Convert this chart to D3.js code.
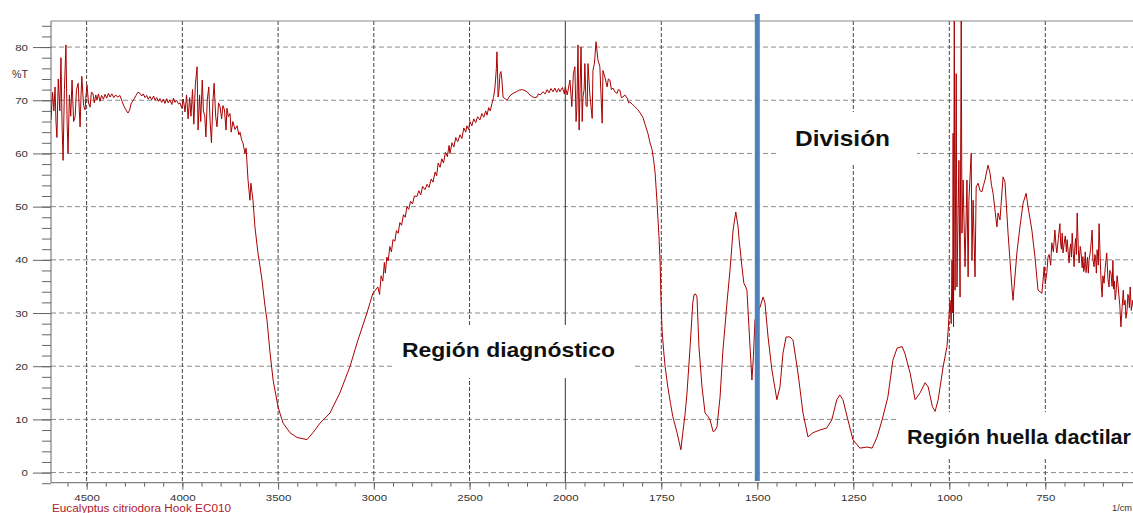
<!DOCTYPE html>
<html>
<head>
<meta charset="utf-8">
<script src="https://cdn.jsdelivr.net/npm/d3@7"></script>
<style>
  body { margin: 0; background: #fff; }
  svg { display: block; font-family: "Liberation Sans", Arial, sans-serif; }
</style>
</head>
<body>
<svg width="1133" height="513"></svg>
<script>
// %T readings, [wavenumber 1/cm, %T]
const highNoise = [
  [4686,66.3],[4678,71.5],[4671,68],[4665,72.5],[4660,66],[4655,63],[4648,74],[4640,68],[4634,78],
  [4628,65],[4623,58.7],[4616,72],[4608,80.4],[4602,66],[4597,60],[4590,71],[4583,67],[4576,73.8],
  [4568,66],[4560,66.9],[4553,72],[4544,73.2],[4538,68],[4534,65],[4529,71],[4525,74.5],[4516,69],
  [4508,68.2],[4503,71],[4498,72.9],[4490,69.5],[4482,68.7],[4475,71.5],[4467,71.3],[4460,69.5],
  [4452,71],[4446,70],[4438,71.2],[4430,69.8],[4422,70.9],[4412,70.2],[4404,71.1],[4395,70.4],
  [4386,71.3],[4378,70.6],[4368,71.2],[4358,70.5],[4348,71],[4338,70.6],[4326,70.9],[4315,69.8],
  [4305,68.9],[4295,68.2],[4284,67.6],[4276,68.1],[4268,69.3],[4260,69.8],[4250,70.4],[4242,70.9],
  [4232,71.5],[4221,71.3],[4212,70.8],[4204,71.2],[4195,70.5],[4186,70.9],[4178,70.2],[4169,70.7],
  [4160,70.1],[4150,70.8],[4143,70.0],[4134,70.5],[4125,69.8],[4117,70.3],[4108,69.6],[4100,70.2],
  [4091,69.4],[4082,70.3],[4074,69.5],[4065,70.1],[4055,69.2],[4046,70.4],[4039,69.6],[4030,70.0],
  [4020,69.3],[4012,69.5],[4003,68.5],[3995,70.2],[3986,67.8],[3978,71],[3970,66.5],[3962,70.5],
  [3955,67],[3947,72],[3940,65.5],[3932,73],[3923,76.3],[3918,64.4],[3910,71],[3904,66],[3896,73.8],
  [3890,68],[3883,67],[3877,63.1],[3870,70],[3862,72.5],[3855,66],[3848,62],[3840,70],[3834,73.2],
  [3826,67],[3819,65],[3811,69.5],[3803,68.8],[3795,66.5],[3788,69],[3780,68.2],[3772,64.4],
  [3767,68.5],[3760,66.9],[3751,67.5],[3745,64],[3736,66],[3725,64.5],[3714,65.2],[3705,63.5],
  [3699,64],[3690,62.5],[3683,61.9],[3673,60],[3667,61],[3662,58],[3657,55],[3647,51.2]
];

const ohBand = [
  [3642,54.4],[3631,51.2],[3621,46.2],[3605,41.3],[3584,36.2],[3568,31.2],[3558,28.7],[3542,22.5],
  [3526,17.4],[3500,12.3],[3474,9.3],[3438,7.5],[3401,6.6],[3349,6.2],[3318,7.5],[3281,9.3],
  [3229,11.2],[3177,15],[3125,19.9],[3083,24.9],[3036,30],[3005,33.7],[2979,34.9],[2970,33.5],
  [2962,37],[2953,36],[2945,39.5],[2940,37.5],[2932,40.5],[2925,39.8],[2916,42.5],[2908,41.5],
  [2900,43.8],[2890,43.5],[2882,45.5],[2873,45],[2864,47],[2855,46.5],[2845,48.5],[2836,48],
  [2827,50],[2818,49.5],[2808,51],[2798,50.5],[2788,52],[2775,51.9],[2765,53],[2755,52.2],
  [2745,53.8],[2733,53.2],[2722,54.2],[2712,53.6],[2700,55.2],[2691,54.6],[2680,56.5],[2672,55.8],
  [2664,58.2],[2654,57.4],[2645,59],[2636,58.2],[2626,60.2],[2616,59.4],[2607,61.5],[2602,60],
  [2592,62],[2582,61.2],[2572,63],[2562,62.2],[2550,63.5],[2540,62.8],[2530,64.8],[2520,64],
  [2514,65.2],[2505,64.5],[2498,66],[2488,65.2],[2478,66.5],[2468,65.8],[2458,66.9],[2446,66.3],
  [2436,67.5],[2426,66.8],[2416,68],[2409,67.2],[2400,68.6],[2392,68],[2383,69.4],[2375,70.5],
  [2367,72.5],[2360,76],[2357,79.1],[2353,74],[2351,70.6],[2346,72],[2341,75],[2336,75.4],
  [2331,73.8],[2325,70.6],[2315,70.3],[2304,70],[2290,70.8],[2273,71.3],[2255,71.6],[2240,71.9],
  [2225,72],[2210,71.8],[2200,71.6],[2185,71],[2169,70.6],[2160,70.5],[2148,70.6],[2140,71.2],
  [2130,71],[2117,71.6],[2105,71.2],[2095,72],[2085,71.4],[2075,72.2],[2064,71.6],[2055,72.3],
  [2045,71.5],[2035,72.2],[2028,71.6],[2015,72.4],[2005,71.2],[2000,72.5]
];

const midBand = [
  [1995,71],[1988,73.8],[1983,68.8],[1979,75],[1975,76.3],[1972,66],[1970,68.2],[1967,80.4],
  [1964,64.4],[1961,74],[1959,80],[1956,66],[1954,70.6],[1951,72],[1949,76.9],[1946,69],[1943,68.8],
  [1941,76.9],[1936,71],[1930,66.6],[1928,75.6],[1924,77],[1920,81],[1915,77.6],[1910,76.3],
  [1904,65.7],[1902,75.6],[1897,74.4],[1891,72.5],[1888,74],[1884,73.8],[1880,72],[1876,72.3],
  [1870,71.5],[1865,71.3],[1862,72],[1858,71.9],[1854,70.5],[1850,70.6],[1845,71],[1839,70.4],
  [1835,69.5],[1832,69.7],[1825,69.2],[1819,68.8],[1812,68.3],[1805,67.6],[1798,66.8],[1792,65.4],
  [1785,63.8],[1780,62.2],[1774,60.7],[1770,58.8],[1766,56.3],[1761,50.7],[1756,44.3],[1753,39.4],
  [1751,33.1],[1748,26.8],[1744,23],[1740,19.9],[1733,16.1],[1726,13],[1720,10.5],[1709,7.5],
  [1699,4.3],[1694,7.5],[1688,11],[1683,15],[1675,23.7],[1668,31.9],[1665,33.4],[1661,33.6],
  [1657,33],[1652,23.7],[1644,16.1],[1636,11.2],[1628,10.5],[1623,9.9],[1615,7.7],[1610,7.9],
  [1605,8.6],[1597,14.2],[1590,22.5],[1579,31.9],[1571,38.1],[1563,45.6],[1556,49],[1550,46.2],
  [1548,44.3],[1540,38.7],[1535,35.6],[1530,34.9],[1527,34.3],[1519,23.7],[1514,17.4],[1510,22],
  [1506,28.7]
];

const fingerprint = [
  [1493,31.1],[1485,33],[1480,31.9],[1472,25.5],[1462,19.3],[1449,13.7],[1441,16.1],[1433,22.5],
  [1425,25.5],[1415,25.5],[1407,24.9],[1394,18.7],[1381,11.2],[1368,6.7],[1355,7.5],[1337,8],
  [1319,8.4],[1306,9.9],[1293,13.7],[1285,14.6],[1277,13.7],[1264,9.9],[1251,6.2],[1233,4.6],
  [1214,4.8],[1201,4.6],[1188,6.7],[1175,9.9],[1160,14.2],[1147,21.1],[1136,23.4],[1123,23.7],
  [1116,22.5],[1102,18.7],[1089,13.7],[1076,15],[1063,16.9],[1055,16.1],[1044,12.4],[1037,11.5],
  [1029,13.7],[1016,19.9],[1006,23.7],[1003,26.8],[998,32.4],[995,28],[993,39.9],[991,30],[990,63.8],
  [989,27.4],[987,85],[985,34.3],[982,75],[980,34.9],[975,58.7],[972,33],[969,85],[967,45],
  [964,55],[959,38.7],[954,55],[951,36.8],[949,51.2],[943,60],[941,39.9],[938,51.2],[933,36.8],
  [930,53.7],[925,54.4],[920,53],[915,52.8],[911,54],[907,55],[903,56.5],[899,57.8],[894,56.3],
  [890,54],[886,52.5],[876,46.2],[873,48.8],[868,47.5],[860,55.6],[855,54.6],[847,45],[837,34.9],
  [834,32.4],[824,41.3],[816,46.2],[808,50.6],[800,52.5],[795,50],[785,45.6],[777,40.6],[769,34.3],
  [759,33.7],[756,36],[753,38.7],[750,35.5],[746,37.6],[743,40.5],[740,41],[736,39],[733,43.2],
  [729,41.5],[725,45.6],[722,42.5],[720,41.3],[716,44],[712,46.8],[710,43],[708,42],[706,45],
  [704,41.3],[701,43],[698,44.5],[695,41.5],[693,43.8],[690,41],[688,39.4],[686,42],[684,43],
  [682,40.5],[680,45],[677,41],[675,38.7],[673,42.5],[671,44],[669,41],[667,48.8],[664,42],
  [662,39.4],[659,42.5],[657,41.5],[654,38.5],[652,40.6],[650,37.8],[648,38.5],[646,41.5],
  [644,37.6],[642,39],[640,40.5],[638,37.5],[636,39.9],[632,42],[628,45.6],[626,40],[623,38.7],
  [621,41],[619,40.5],[617,37.5],[615,41.9],[612,39],[610,46.8],[606,38],[604,35],[602,33],
  [600,37],[597,35.6],[594,38.5],[590,41.3],[587,36.5],[584,34.9],[582,38],[579,37.5],[576,35],
  [574,39.9],[572,34.5],[570,36],[568,32.5],[566,33.7],[563,37],[561,35.6],[558,33],[556,31.5],
  [553,27.4],[550,31],[547,34.3],[545,31.5],[542,32.4],[540,29],[537,30.6],[535,33.5],[533,33],
  [531,31],[529,34.9],[526,30.5],[522,32.4],[519,30],[515,31]
];

const yTicks = [0, 10, 20, 30, 40, 50, 60, 70, 80];
const yMinor = d3.range(-2, 86, 2);
const xMajor = [4500, 4000, 3500, 3000, 2500, 2000, 1750, 1500, 1250, 1000, 750];
const xMinor = d3.range(4600, 2000, -100).concat(d3.range(1950, 500, -50));

const svg = d3.select('svg');
const pLeft = 51, pTop = 21, pBottom = 482.7, pRight = 1133;

const x = d3.scaleLinear().domain([4686, 2000, 500]).range([pLeft, 565.3, 1141.3]);
const y = d3.scaleLinear().domain([-1.9, 84.9]).range([pBottom, pTop]);

svg.append('clipPath').attr('id', 'plot')
  .append('rect').attr('x', pLeft).attr('y', pTop).attr('width', pRight - pLeft).attr('height', pBottom - pTop);

// grid
svg.append('g').selectAll('line').data(yTicks).join('line')
  .attr('x1', pLeft).attr('x2', pRight)
  .attr('y1', d => y(d)).attr('y2', d => y(d))
  .attr('stroke', '#8c8c8c').attr('stroke-dasharray', '5,3');

svg.append('g').selectAll('line').data(xMajor).join('line')
  .attr('x1', d => x(d)).attr('x2', d => x(d))
  .attr('y1', pTop).attr('y2', pBottom)
  .attr('stroke', d => d === 2000 ? '#333' : '#444')
  .attr('stroke-dasharray', d => d === 2000 ? null : '4,2');

// frame
svg.append('line').attr('x1', pLeft).attr('x2', pRight).attr('y1', pTop).attr('y2', pTop).attr('stroke', '#888');
svg.append('line').attr('x1', pLeft).attr('x2', pLeft).attr('y1', pTop).attr('y2', pBottom).attr('stroke', '#666');
svg.append('line').attr('x1', pLeft).attr('x2', pRight).attr('y1', pBottom).attr('y2', pBottom).attr('stroke', '#666');

// axes -- the labels in the scan are squat and wide, so stretch them a little
function styleAxis(g) {
  g.select('.domain').remove();
  g.selectAll('line').attr('stroke', '#666');
  g.selectAll('text').attr('fill', '#333').attr('font-size', 9.5)
    .attr('font-family', '"Liberation Sans", Arial, sans-serif')
    .attr('textLength', d => String(d).length * 6.4)
    .attr('lengthAdjust', 'spacingAndGlyphs');
}

svg.append('g').attr('transform', `translate(${pLeft},0)`)
  .call(d3.axisLeft(y).tickValues(yMinor).tickSize(9).tickFormat(''))
  .call(g => g.select('.domain').remove())
  .call(g => g.selectAll('line').attr('stroke', '#666'));
svg.append('g').attr('transform', `translate(${pLeft},0)`)
  .call(d3.axisLeft(y).tickValues(yTicks).tickSize(18).tickPadding(5))
  .call(styleAxis);

svg.append('g').attr('transform', `translate(0,${pBottom})`)
  .call(d3.axisBottom(x).tickValues(xMinor).tickSize(4).tickFormat(''))
  .call(g => g.select('.domain').remove())
  .call(g => g.selectAll('line').attr('stroke', '#666'));
svg.append('g').attr('transform', `translate(0,${pBottom})`)
  .call(d3.axisBottom(x).tickValues(xMajor).tickSize(7).tickPadding(5).tickFormat(d3.format('d')))
  .call(styleAxis);

// spectrum
const line = d3.line().x(d => x(d[0])).y(d => y(d[1]));
svg.append('path')
  .datum([].concat(highNoise, ohBand, midBand, fingerprint))
  .attr('clip-path', 'url(#plot)')
  .attr('fill', 'none')
  .attr('stroke', '#a80000')
  .attr('stroke-width', 1)
  .attr('stroke-linejoin', 'round')
  .attr('d', line);

// division marker
svg.append('line')
  .attr('x1', x(1500)).attr('x2', x(1500))
  .attr('y1', 14).attr('y2', 481)
  .attr('stroke', '#4f81bd').attr('stroke-width', 5);

// labels
svg.append('text').attr('x', 12).attr('y', 78).attr('font-size', 10).attr('fill', '#333')
  .attr('textLength', 16).attr('lengthAdjust', 'spacingAndGlyphs').text('%T');
svg.append('text').attr('x', 1112).attr('y', 511).attr('font-size', 9.5).attr('fill', '#333')
  .attr('textLength', 20).attr('lengthAdjust', 'spacingAndGlyphs').text('1/cm');
svg.append('text').attr('x', 52).attr('y', 512).attr('font-size', 10).attr('fill', '#b0202a')
  .attr('textLength', 179).attr('lengthAdjust', 'spacingAndGlyphs')
  .text('Eucalyptus citriodora Hook EC010');

const notes = [
  {text: 'Región diagnóstico', box: [392, 325, 240, 53], x: 402, y: 357, size: 21, len: 213},
  {text: 'División', box: [778, 112, 139, 51], x: 795, y: 146, size: 22, len: 95},
  {text: 'Región huella dactilar', box: [897, 412, 240, 45], x: 907, y: 444, size: 20, len: 224}
];
const ng = svg.append('g').selectAll('g').data(notes).join('g');
ng.append('rect')
  .attr('x', d => d.box[0]).attr('y', d => d.box[1])
  .attr('width', d => d.box[2]).attr('height', d => d.box[3])
  .attr('fill', '#fff');
ng.append('text')
  .attr('x', d => d.x).attr('y', d => d.y)
  .attr('font-size', d => d.size).attr('font-weight', 'bold').attr('fill', '#111')
  .attr('textLength', d => d.len).attr('lengthAdjust', 'spacingAndGlyphs')
  .text(d => d.text);
</script>
</body>
</html>
